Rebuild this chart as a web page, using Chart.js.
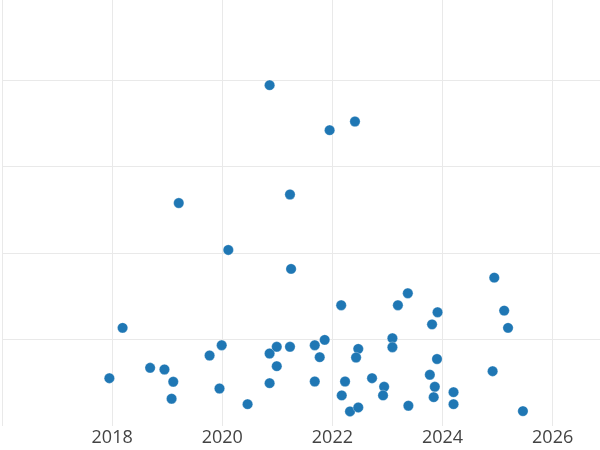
<!DOCTYPE html>
<html>
<head>
<meta charset="utf-8">
<script src="https://cdn.jsdelivr.net/npm/chart.js@4/dist/chart.umd.min.js"></script>
<style>
  html, body { margin: 0; padding: 0; background: #fff; }
  #wrap { width: 600px; height: 450px; }
</style>
</head>
<body>
<div id="wrap"><canvas id="scatter"></canvas></div>
<script>
const years = [
  2017.95, 2018.19, 2018.69, 2018.95, 2019.11, 2019.08, 2019.21, 2019.77, 2019.99, 2019.95,
  2020.11, 2020.46, 2020.86, 2020.99, 2021.23, 2020.99, 2020.86, 2020.86, 2021.23, 2021.25,
  2021.68, 2021.86, 2021.77, 2021.68, 2021.95, 2022.16, 2022.41, 2022.47, 2022.43, 2022.23,
  2022.17, 2022.32, 2022.47, 2022.72, 2022.94, 2022.92, 2023.09, 2023.09, 2023.19, 2023.37,
  2023.38, 2023.91, 2023.81, 2023.90, 2023.77, 2023.86, 2023.84, 2024.20, 2024.20, 2024.94,
  2025.12, 2025.19, 2024.91, 2025.46
];
const values = [
  55.7, 113.9, 67.7, 65.8, 51.6, 32.0, 258.1, 81.9, 93.8, 43.8,
  203.9, 25.7, 84.2, 92.0, 92.0, 69.6, 50.0, 394.3, 268.0, 182.0,
  93.8, 100.0, 80.0, 51.9, 342.3, 140.0, 352.3, 89.6, 79.6, 51.9,
  35.8, 17.3, 21.9, 55.7, 45.8, 35.8, 101.9, 91.5, 140.0, 153.8,
  23.9, 131.9, 117.9, 77.9, 59.7, 45.8, 33.8, 39.6, 25.7, 171.9,
  133.8, 113.9, 63.8, 17.7
];
const xTickYears = [2016, 2018, 2020, 2022, 2024, 2026];
const yTickValues = [0, 100, 200, 300, 400];

const points = years.map((x, i) => ({ x, y: values[i] }));
const gridColor = "#e9e9e9";

new Chart(document.getElementById("scatter"), {
  type: "scatter",
  data: {
    datasets: [{
      data: points,
      backgroundColor: "#1f77b4",
      borderColor: "rgba(255,255,255,.6)",
      borderWidth: 0.5,
      pointRadius: 5.2,
      pointHoverRadius: 5.2
    }]
  },
  options: {
    responsive: true,
    maintainAspectRatio: false,
    animation: false,
    layout: { autoPadding: false, padding: { left: 2, right: 0, top: 0, bottom: 0 } },
    plugins: { legend: { display: false }, tooltip: { enabled: false } },
    scales: {
      x: {
        type: "linear",
        min: 2016,
        max: 2026.86,
        afterBuildTicks(scale) {
          scale.ticks = xTickYears.map(value => ({ value }));
        },
        ticks: {
          // 2016 sits on the left edge without a label.
          callback: value => value === 2016 ? "" : String(value),
          color: "#444",
          font: { family: "'Open Sans', sans-serif", size: 18 },
          padding: 1,
          maxRotation: 0,
          autoSkip: false
        },
        grid: { color: gridColor, lineWidth: 1, drawTicks: false },
        border: { display: false }
      },
      y: {
        min: 0,
        max: 492.7,
        afterBuildTicks(scale) {
          scale.ticks = yTickValues.map(value => ({ value }));
        },
        ticks: { display: false },
        grid: {
          color: ctx => ctx.tick && ctx.tick.value === 0 ? "rgba(0,0,0,0)" : gridColor,
          lineWidth: 1,
          drawTicks: false
        },
        border: { display: false }
      }
    }
  }
});
</script>
</body>
</html>
